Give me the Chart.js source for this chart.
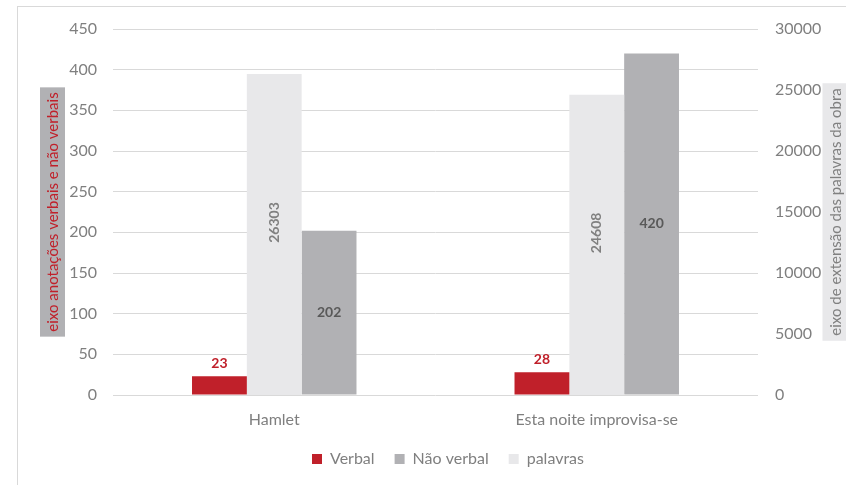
<!DOCTYPE html>
<html>
<head>
<meta charset="utf-8">
<script src="https://cdn.jsdelivr.net/npm/chart.js@4/dist/chart.umd.min.js"></script>
<style>
  html, body { margin: 0; padding: 0; background: #fff; }
  #frame { position: absolute; left: 17px; top: 6px; width: 840px; height: 490px; border: 1px solid #d9d9d9; }
  #wrap { position: absolute; left: 0; top: 0; width: 846px; height: 485px; }
</style>
</head>
<body>
<div id="frame"></div>
<div id="wrap"><canvas id="chart" width="846" height="485"></canvas></div>
<script>
const categories = ['Hamlet', 'Esta noite improvisa-se'];
const verbal = [23, 28];
const naoVerbal = [202, 420];
const palavras = [26303, 24608];

const leftTitle = 'eixo anotações verbais e não verbais';
const rightTitle = 'eixo de extensão das palavras da obra';
const legendOrder = ['Verbal', 'Não verbal', 'palavras'];

const RED = '#c0202a';
const GRAY = '#b1b1b4';
const LIGHT = '#e8e8ea';
const FONT = "Lato, 'Open Sans', sans-serif";

// rotated axis titles with a filled box behind them
const axisTitleBoxes = {
  id: 'axisTitleBoxes',
  afterDraw(chart) {
    const ctx = chart.ctx;
    const area = chart.chartArea;
    const midY = (area.top + area.bottom) / 2;
    const draw = (text, cx, bg, fg) => {
      ctx.save();
      ctx.font = '15px ' + FONT;
      const w = ctx.measureText(text).width + 10;
      ctx.fillStyle = bg;
      ctx.fillRect(cx - 12.5, midY - w / 2, 25, w);
      ctx.translate(cx, midY);
      ctx.rotate(-Math.PI / 2);
      ctx.fillStyle = fg;
      ctx.textAlign = 'center';
      ctx.textBaseline = 'middle';
      ctx.fillText(text, 0, 1);
      ctx.restore();
    };
    draw(leftTitle, 52.5, GRAY, RED);
    draw(rightTitle, 835, LIGHT, '#808080');
  }
};

// value labels on the bars
const barLabels = {
  id: 'barLabels',
  afterDatasetsDraw(chart) {
    const ctx = chart.ctx;
    ctx.save();
    ctx.font = 'bold 14px ' + FONT;
    ctx.textAlign = 'center';
    ctx.textBaseline = 'middle';
    chart.data.datasets.forEach((ds, i) => {
      const meta = chart.getDatasetMeta(i);
      meta.data.forEach((bar, j) => {
        const v = ds.data[j];
        const mid = (bar.y + bar.base) / 2;
        if (ds.label === 'Verbal') {
          ctx.fillStyle = RED;
          ctx.fillText(v, bar.x, bar.y - 13);
        } else if (ds.label === 'Não verbal') {
          ctx.fillStyle = '#595959';
          ctx.fillText(v, bar.x, mid);
        } else {
          ctx.save();
          ctx.translate(bar.x, mid - 12);
          ctx.rotate(-Math.PI / 2);
          ctx.fillStyle = '#808080';
          ctx.fillText(v, 0, 0);
          ctx.restore();
        }
      });
    });
    ctx.restore();
  }
};

new Chart(document.getElementById('chart').getContext('2d'), {
  type: 'bar',
  data: {
    labels: categories,
    datasets: [
      { label: 'Verbal', data: verbal, backgroundColor: RED, yAxisID: 'y' },
      { label: 'palavras', data: palavras, backgroundColor: LIGHT, yAxisID: 'y1' },
      { label: 'Não verbal', data: naoVerbal, backgroundColor: GRAY, yAxisID: 'y' },
    ],
  },
  options: {
    responsive: false,
    animation: false,
    categoryPercentage: 0.51,
    barPercentage: 1,
    layout: { padding: { top: 29, bottom: 8, left: 50 } },
    scales: {
      x: {
        grid: { display: false, drawTicks: false },
        border: { display: false },
        ticks: { padding: 15, color: '#7f7f7f', font: { family: FONT, size: 16 } },
        afterFit: s => { s.height = 36; },
      },
      y: {
        position: 'left',
        min: 0,
        max: 450,
        ticks: { stepSize: 50, padding: 16, color: '#7f7f7f', font: { family: FONT, size: 16 } },
        grid: { color: '#d9d9d9', drawTicks: false },
        border: { display: false },
        afterFit: s => { s.width = 63; },
      },
      y1: {
        position: 'right',
        min: 0,
        max: 30000,
        ticks: {
          stepSize: 5000,
          padding: 17,
          color: '#7f7f7f',
          font: { family: FONT, size: 16 },
          callback: v => String(v),
        },
        grid: { display: false, drawTicks: false },
        border: { display: false },
        afterFit: s => { s.width = 88; },
      },
    },
    plugins: {
      legend: {
        position: 'bottom',
        labels: {
          boxWidth: 10,
          boxHeight: 10,
          padding: 20,
          color: '#7f7f7f',
          font: { family: FONT, size: 16 },
          sort: (a, b) => legendOrder.indexOf(a.text) - legendOrder.indexOf(b.text),
        },
      },
      tooltip: { enabled: false },
    },
  },
  plugins: [axisTitleBoxes, barLabels],
});
</script>
</body>
</html>
